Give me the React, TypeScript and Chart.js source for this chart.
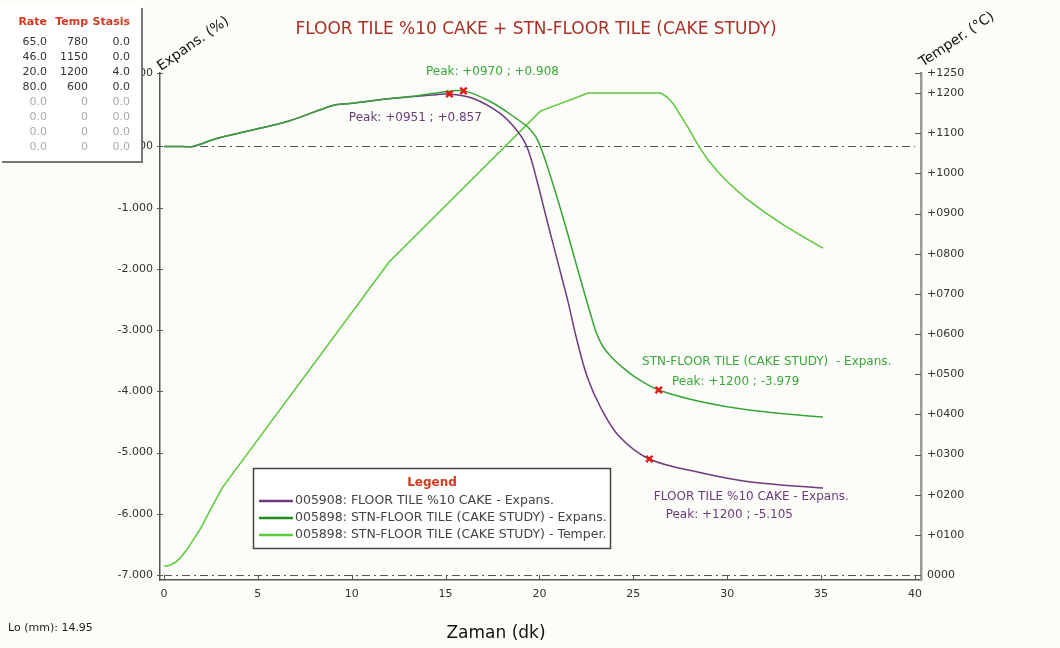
import React, { useEffect, useRef } from "react";
import { Chart, registerables } from "chart.js";

Chart.register(...registerables);

// Furnace programme (rate °C/min, target °C, hold min)
const programRate = [65.0, 46.0, 20.0, 80.0, 0, 0, 0, 0];
const programTemp = [780, 1150, 1200, 600, 0, 0, 0, 0];
const programStasis = [0.0, 0.0, 4.0, 0.0, 0, 0, 0, 0];

// Time axis (min) and tick values
const xTicks = [0, 5, 10, 15, 20, 25, 30, 35, 40];
const expTicks = [-7, -6, -5, -4, -3, -2, -1, 0, 1.2];
const tempTicks = [0, 100, 200, 300, 400, 500, 600, 700, 800, 900, 1000, 1100, 1200, 1250];

// 005908: FLOOR TILE %10 CAKE - Expans. (%)
const ftTime = [0, 1.0, 1.55, 2.8, 4.6, 6.7, 9.0, 9.9, 11.7, 13.5, 14.5, 15.2, 16.5, 17.9, 18.8, 19.35, 19.9, 20.4, 20.95, 21.5, 22.0, 22.55, 23.25, 24.2, 25.85, 28.6, 31.25, 35.1];
const ftExp = [0, 0, 0, 0.13, 0.26, 0.42, 0.67, 0.7, 0.77, 0.82, 0.845, 0.857, 0.78, 0.54, 0.26, -0.02, -0.6, -1.21, -1.86, -2.51, -3.17, -3.77, -4.26, -4.72, -5.105, -5.33, -5.48, -5.58];

// 005898: STN-FLOOR TILE (CAKE STUDY) - Expans. (%)
const stnTime = [0, 1.0, 1.55, 2.8, 4.6, 6.7, 9.0, 9.9, 11.7, 13.5, 14.7, 15.95, 17.4, 18.8, 19.4, 19.8, 20.1, 20.6, 21.3, 22.0, 22.7, 23.05, 23.4, 23.8, 24.2, 25.2, 26.35, 28.6, 31.25, 35.1];
const stnExp = [0, 0, 0, 0.13, 0.26, 0.42, 0.67, 0.7, 0.77, 0.83, 0.88, 0.908, 0.73, 0.45, 0.31, 0.16, -0.04, -0.5, -1.21, -1.97, -2.72, -3.06, -3.28, -3.43, -3.55, -3.79, -3.979, -4.17, -4.31, -4.42];

// 005898: STN-FLOOR TILE (CAKE STUDY) - Temper. (°C)
const tempTime = [0, 0.3, 0.6, 0.85, 1.2, 1.55, 2.0, 2.5, 3.1, 12, 20.05, 22.6, 26.45, 26.8, 27.1, 27.5, 27.9, 28.5, 29, 29.5, 30, 30.5, 31, 32, 33, 34, 35.1];
const tempVal = [22, 24, 31, 42, 62, 87, 120, 165, 217, 780, 1155, 1200, 1200, 1190, 1175, 1145, 1115, 1066, 1032, 1004, 980, 958, 938, 903, 872, 843, 814];

// Peak markers: [time, expansion]
const ftPeakTop = [15.2, 0.857];
const stnPeakTop = [15.95, 0.908];
const ftPeak1200 = [25.85, -5.105];
const stnPeak1200 = [26.35, -3.979];

const FONT = "'DejaVu Sans', Verdana, sans-serif";
const PURPLE = "#6e3a80";
const GREEN_EXP = "#36a436";
const GREEN_TEMP = "#5cc83c";
const PURPLE_TXT = "#6a3d7a";
const GREEN_TXT = "#3aa83a";

const pts = (xs: number[], ys: number[]) => xs.map((x, i) => ({ x, y: ys[i] }));

const decor = {
  id: "decor",
  beforeDraw(chart: any) {
    const { ctx, width, height } = chart;
    ctx.save();
    ctx.fillStyle = "#fcfcf8";
    ctx.fillRect(0, 0, width, height);
    ctx.restore();
  },
  beforeDatasetsDraw(chart: any) {
    const { ctx, chartArea } = chart;
    const xs = chart.scales.x;
    const ys = chart.scales.y;
    const yt = chart.scales.yT;
    ctx.save();
    // dash-dot reference lines at 0 % and at the bottom of the range
    ctx.strokeStyle = "#555";
    ctx.lineWidth = 1.2;
    ctx.setLineDash([8, 4, 2, 4]);
    [0, -7].forEach((v) => {
      const py = Math.round(ys.getPixelForValue(v)) + 0.5;
      ctx.beginPath();
      ctx.moveTo(xs.getPixelForValue(0), py);
      ctx.lineTo(xs.getPixelForValue(40), py);
      ctx.stroke();
    });
    ctx.setLineDash([]);
    // inward tick marks
    ctx.strokeStyle = "#555";
    ctx.lineWidth = 1;
    xTicks.forEach((v) => {
      const px = Math.round(xs.getPixelForValue(v)) + 0.5;
      ctx.beginPath();
      ctx.moveTo(px, chartArea.bottom);
      ctx.lineTo(px, chartArea.bottom - 5);
      ctx.stroke();
    });
    expTicks.forEach((v) => {
      const py = Math.round(ys.getPixelForValue(v)) + 0.5;
      ctx.beginPath();
      ctx.moveTo(chartArea.left - 3, py);
      ctx.lineTo(chartArea.left + 3, py);
      ctx.stroke();
    });
    tempTicks.forEach((v) => {
      const py = Math.round(yt.getPixelForValue(v)) + 0.5;
      ctx.beginPath();
      ctx.moveTo(chartArea.right - 6, py);
      ctx.lineTo(chartArea.right, py);
      ctx.stroke();
    });
    ctx.restore();
  },
  afterDraw(chart: any) {
    const { ctx } = chart;
    const xs = chart.scales.x;
    const ys = chart.scales.y;
    const at = (p: number[]) => [xs.getPixelForValue(p[0]), ys.getPixelForValue(p[1])];
    ctx.save();

    // title
    ctx.fillStyle = "#a8322a";
    ctx.font = `17px ${FONT}`;
    ctx.textAlign = "center";
    ctx.textBaseline = "middle";
    ctx.fillText("FLOOR TILE %10 CAKE + STN-FLOOR TILE (CAKE STUDY)", 536, 30);

    // rotated axis titles
    ctx.fillStyle = "#111";
    ctx.font = `14px ${FONT}`;
    ctx.textAlign = "left";
    ctx.textBaseline = "alphabetic";
    ctx.save();
    ctx.translate(161, 71);
    ctx.rotate((-35 * Math.PI) / 180);
    ctx.fillText("Expans. (%)", 0, 0);
    ctx.restore();
    ctx.save();
    ctx.translate(923, 67);
    ctx.rotate((-34 * Math.PI) / 180);
    ctx.fillText("Temper. (°C)", 0, 0);
    ctx.restore();

    // x axis title and Lo
    ctx.font = `17px ${FONT}`;
    ctx.textAlign = "center";
    ctx.textBaseline = "middle";
    ctx.fillText("Zaman (dk)", 496, 634);
    ctx.font = `11px ${FONT}`;
    ctx.textAlign = "left";
    ctx.fillStyle = "#222";
    ctx.fillText("Lo (mm): 14.95", 8, 628);

    // peak annotations
    ctx.font = `12px ${FONT}`;
    ctx.textAlign = "center";
    ctx.textBaseline = "middle";
    let [px, py] = at(stnPeakTop);
    ctx.fillStyle = GREEN_TXT;
    ctx.fillText(`Peak: +0970 ; +${stnPeakTop[1].toFixed(3)}`, px + 29, py - 19);
    [px, py] = at(ftPeakTop);
    ctx.fillStyle = PURPLE_TXT;
    ctx.fillText(`Peak: +0951 ; +${ftPeakTop[1].toFixed(3)}`, px - 34, py + 24);
    [px, py] = at(stnPeak1200);
    ctx.fillStyle = GREEN_TXT;
    ctx.fillText("STN-FLOOR TILE (CAKE STUDY)  - Expans.", px + 108, py - 28);
    ctx.fillText(`Peak: +1200 ; ${stnPeak1200[1].toFixed(3)}`, px + 77, py - 8);
    [px, py] = at(ftPeak1200);
    ctx.fillStyle = PURPLE_TXT;
    ctx.fillText("FLOOR TILE %10 CAKE - Expans.", px + 102, py + 38);
    ctx.fillText(`Peak: +1200 ; ${ftPeak1200[1].toFixed(3)}`, px + 80, py + 56);

    // legend box
    ctx.fillStyle = "#ffffff";
    ctx.fillRect(253, 468, 358, 81);
    ctx.strokeStyle = "#444";
    ctx.lineWidth = 1.5;
    ctx.strokeRect(253.5, 468.5, 357, 80);
    ctx.fillStyle = "#d03a20";
    ctx.font = `bold 12px ${FONT}`;
    ctx.textAlign = "center";
    ctx.fillText("Legend", 432, 483);
    const items = [
      { c: PURPLE, t: "005908: FLOOR TILE %10 CAKE - Expans." },
      { c: "#1f8c1f", t: "005898: STN-FLOOR TILE (CAKE STUDY) - Expans." },
      { c: GREEN_TEMP, t: "005898: STN-FLOOR TILE (CAKE STUDY) - Temper." },
    ];
    ctx.font = `12.5px ${FONT}`;
    ctx.textAlign = "left";
    items.forEach((it, i) => {
      const y = 501 + i * 17;
      ctx.strokeStyle = it.c;
      ctx.lineWidth = 2.5;
      ctx.beginPath();
      ctx.moveTo(259, y);
      ctx.lineTo(293, y);
      ctx.stroke();
      ctx.fillStyle = "#444";
      ctx.fillText(it.t, 295, y);
    });

    // programme table
    ctx.fillStyle = "#ffffff";
    ctx.fillRect(0, 6, 142, 156);
    ctx.strokeStyle = "#777";
    ctx.lineWidth = 2;
    ctx.beginPath();
    ctx.moveTo(142, 8);
    ctx.lineTo(142, 162);
    ctx.lineTo(2, 162);
    ctx.stroke();
    ctx.textAlign = "right";
    ctx.fillStyle = "#d03a20";
    ctx.font = `bold 11px ${FONT}`;
    ctx.fillText("Rate", 47, 22);
    ctx.fillText("Temp", 88, 22);
    ctx.fillText("Stasis", 130, 22);
    ctx.font = `11px ${FONT}`;
    programRate.forEach((r, i) => {
      const y = 42 + i * 15;
      ctx.fillStyle = i < 4 ? "#333" : "#aaa";
      ctx.fillText(r.toFixed(1), 47, y);
      ctx.fillText(String(programTemp[i]), 88, y);
      ctx.fillText(programStasis[i].toFixed(1), 130, y);
    });

    ctx.restore();
  },
};

export default function App() {
  const ref = useRef<HTMLCanvasElement | null>(null);
  useEffect(() => {
    if (!ref.current) return;
    const tickFont = { family: FONT, size: 11 };
    const chart = new Chart(ref.current, {
      type: "line",
      data: {
        datasets: [
          {
            label: "markers",
            data: [ftPeakTop, stnPeakTop, ftPeak1200, stnPeak1200].map((p) => ({ x: p[0], y: p[1] })),
            showLine: false,
            pointStyle: "crossRot",
            pointRadius: 4.5,
            borderColor: "#e01818",
            pointBorderWidth: 2.5,
            yAxisID: "y",
          },
          {
            label: "005898: STN-FLOOR TILE (CAKE STUDY) - Expans.",
            data: pts(stnTime, stnExp),
            borderColor: GREEN_EXP,
            borderWidth: 1.5,
            pointRadius: 0,
            tension: 0.35,
            yAxisID: "y",
          },
          {
            label: "005908: FLOOR TILE %10 CAKE - Expans.",
            data: pts(ftTime, ftExp),
            borderColor: PURPLE,
            borderWidth: 1.5,
            pointRadius: 0,
            tension: 0.35,
            yAxisID: "y",
          },
          {
            label: "005898: STN-FLOOR TILE (CAKE STUDY) - Temper.",
            data: pts(tempTime, tempVal),
            borderColor: GREEN_TEMP,
            borderWidth: 1.5,
            pointRadius: 0,
            tension: 0,
            yAxisID: "yT",
          },
        ],
      },
      options: {
        animation: false,
        responsive: false,
        layout: { padding: { top: 73, left: 0, right: 0, bottom: 0 } },
        plugins: { legend: { display: false }, tooltip: { enabled: false }, title: { display: false } },
        scales: {
          x: {
            type: "linear",
            min: -0.213,
            max: 40.32,
            afterBuildTicks: (s: any) => {
              s.ticks = xTicks.map((v) => ({ value: v }));
            },
            afterFit: (s: any) => {
              s.height = 68;
            },
            ticks: { font: tickFont, color: "#333", padding: 8, maxRotation: 0, autoSkip: false, callback: (v: any) => String(v) },
            grid: { display: false, drawTicks: false },
            border: { display: true, color: "#555", width: 1.5 },
          },
          y: {
            position: "left",
            min: -7.082,
            max: 1.2,
            afterBuildTicks: (s: any) => {
              s.ticks = expTicks.map((v) => ({ value: v }));
            },
            afterFit: (s: any) => {
              s.width = 160;
            },
            ticks: { font: tickFont, color: "#333", padding: 7, autoSkip: false, callback: (v: any) => Number(v).toFixed(3) },
            grid: { display: false, drawTicks: false },
            border: { display: true, color: "#555", width: 1.5 },
          },
          yT: {
            position: "right",
            min: -12.5,
            max: 1250,
            afterBuildTicks: (s: any) => {
              s.ticks = tempTicks.map((v) => ({ value: v }));
            },
            afterFit: (s: any) => {
              s.width = 139;
            },
            ticks: {
              font: tickFont,
              color: "#333",
              padding: 6,
              autoSkip: false,
              callback: (v: any) => (Number(v) === 0 ? "0000" : "+" + String(v).padStart(4, "0")),
            },
            grid: { display: false, drawTicks: false },
            border: { display: true, color: "#999", width: 2.5 },
          },
        },
      },
      plugins: [decor],
    } as any);
    return () => chart.destroy();
  }, []);
  return (
    <div style={{ position: "fixed", left: 0, top: 0, width: 1060, height: 648 }}>
      <canvas ref={ref} width={1060} height={648} />
    </div>
  );
}
